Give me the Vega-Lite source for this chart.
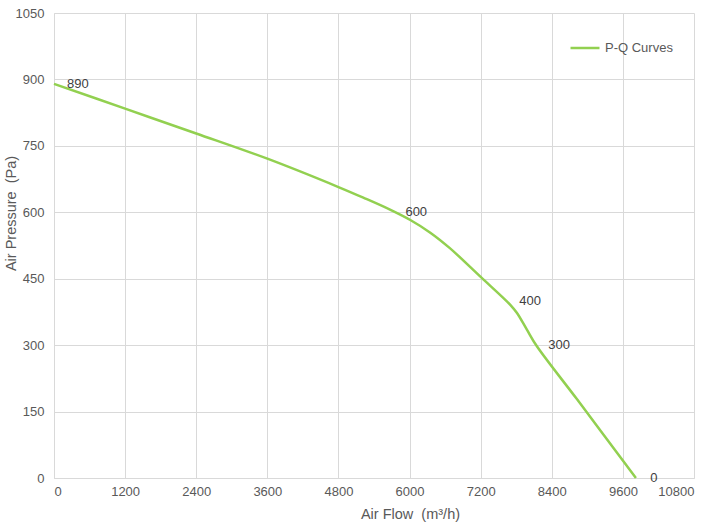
{
  "$schema": "https://vega.github.io/schema/vega-lite/v6.json",
  "width": 640,
  "height": 465,
  "autosize": "none",
  "padding": {"left": 54, "top": 13, "right": 31, "bottom": 53},
  "background": "white",
  "config": {
    "view": {"stroke": null},
    "font": "Liberation Sans",
    "axis": {
      "gridColor": "#d9d9d9",
      "gridWidth": 1,
      "domainColor": "#d9d9d9",
      "ticks": false,
      "labelColor": "#595959",
      "labelFontSize": 13,
      "titleColor": "#595959",
      "titleFontSize": 14.5,
      "titleFontWeight": "normal",
      "labelFont": "Liberation Sans",
      "titleFont": "Liberation Sans"
    }
  },
  "datasets": {
    "curve": [
      {"flow": 0, "pressure": 890},
      {"flow": 1200, "pressure": 834},
      {"flow": 2400, "pressure": 778},
      {"flow": 3600, "pressure": 721},
      {"flow": 4800, "pressure": 657},
      {"flow": 5220, "pressure": 633},
      {"flow": 5670, "pressure": 606},
      {"flow": 6020, "pressure": 582},
      {"flow": 6350, "pressure": 554},
      {"flow": 6680, "pressure": 519},
      {"flow": 7200, "pressure": 454},
      {"flow": 7700, "pressure": 391},
      {"flow": 7810, "pressure": 373},
      {"flow": 7980, "pressure": 335},
      {"flow": 8146, "pressure": 298},
      {"flow": 8830, "pressure": 177},
      {"flow": 9820, "pressure": 0}
    ],
    "labels": [
      {"flow": 220, "pressure": 890, "label": "890"},
      {"flow": 5930, "pressure": 600, "label": "600"},
      {"flow": 7850, "pressure": 400, "label": "400"},
      {"flow": 8340, "pressure": 300, "label": "300"},
      {"flow": 10060, "pressure": 0, "label": "0"}
    ]
  },
  "layer": [
    {
      "data": {"name": "curve"},
      "mark": {"type": "line", "interpolate": "catmull-rom", "strokeWidth": 2.5},
      "encoding": {
        "x": {
          "field": "flow",
          "type": "quantitative",
          "scale": {"domain": [0, 10800], "nice": false},
          "axis": {
            "values": [0, 1200, 2400, 3600, 4800, 6000, 7200, 8400, 9600, 10800],
            "format": "d",
            "labelPadding": 7,
            "title": "Air Flow\u00a0\u00a0(m³/h)",
            "titleX": 356,
            "titleY": 29,
            "titleBaseline": "top"
          }
        },
        "y": {
          "field": "pressure",
          "type": "quantitative",
          "scale": {"domain": [0, 1050], "nice": false},
          "axis": {
            "values": [0, 150, 300, 450, 600, 750, 900, 1050],
            "format": "d",
            "labelPadding": 10,
            "title": "Air Pressure\u00a0\u00a0(Pa)",
            "titleX": -36,
            "titleY": 200,
            "titleBaseline": "bottom"
          }
        },
        "color": {
          "datum": "P-Q Curves",
          "scale": {"range": ["#92d050"]},
          "legend": {
            "title": null,
            "orient": "none",
            "legendX": 515,
            "legendY": 19,
            "symbolSize": 840,
            "symbolStrokeWidth": 2.5,
            "labelColor": "#595959",
            "labelFontSize": 13,
            "labelFont": "Liberation Sans",
            "labelOffset": 4
          }
        }
      }
    },
    {
      "data": {"name": "labels"},
      "mark": {"type": "text", "align": "left", "baseline": "middle", "fontSize": 13, "color": "#404040", "font": "Liberation Sans"},
      "encoding": {
        "x": {"field": "flow", "type": "quantitative"},
        "y": {"field": "pressure", "type": "quantitative"},
        "text": {"field": "label"}
      }
    }
  ]
}
